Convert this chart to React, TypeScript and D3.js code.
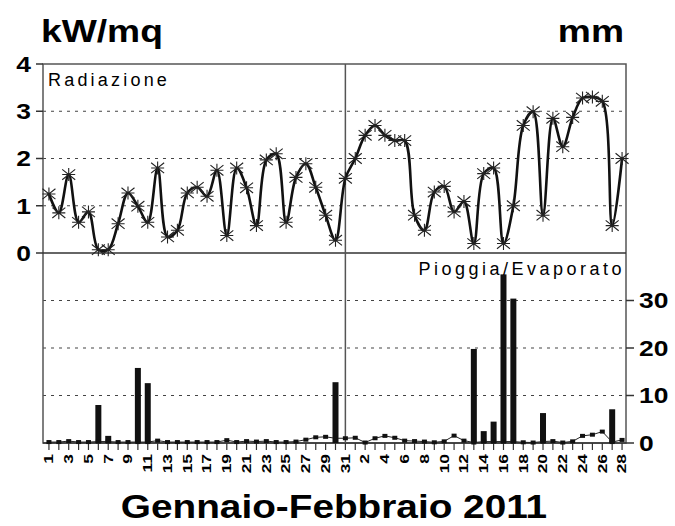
import { useEffect, useRef } from 'react'
import * as d3 from 'd3'

// radiation (kW/mq), one value per day
const janRadiation = [1.25, 0.85, 1.66, 0.65, 0.87, 0.07, 0.07, 0.62, 1.27, 0.99, 0.65, 1.8, 0.34, 0.48, 1.27, 1.39, 1.2, 1.75, 0.37, 1.8, 1.38, 0.58, 1.97, 2.1, 0.65, 1.6, 1.89, 1.39, 0.8, 0.27, 1.58]
const febRadiation = [2.0, 2.49, 2.7, 2.49, 2.38, 2.38, 0.8, 0.48, 1.29, 1.41, 0.87, 1.09, 0.2, 1.68, 1.8, 0.2, 1.0, 2.7, 2.99, 0.8, 2.85, 2.25, 2.87, 3.28, 3.3, 3.21, 0.58, 2.0]

// rain (mm)
const janRain = [0, 0, 0, 0, 0, 8.0, 1.5, 0, 0, 15.8, 12.6, 0, 0, 0, 0, 0, 0, 0, 0, 0, 0, 0, 0, 0, 0, 0, 0, 0, 0, 12.8, 0]
const febRain = [0, 0, 0, 0, 0, 0, 0, 0, 0, 0, 0, 0, 19.8, 2.5, 4.5, 35.5, 30.4, 0, 0, 6.3, 0, 0, 0, 0, 0, 0, 7.1, 0]

// evaporation (mm)
const janEvap = [0.2, 0.2, 0.4, 0.2, 0.2, 0.3, 0.3, 0.2, 0.2, 0.2, 0.2, 0.5, 0.2, 0.2, 0.2, 0.2, 0.2, 0.2, 0.6, 0.2, 0.4, 0.3, 0.4, 0.2, 0.2, 0.3, 0.7, 1.2, 1.3, 1.0, 1.0]
const febEvap = [1.1, 0.1, 1.0, 1.5, 1.1, 0.5, 0.4, 0.3, 0.15, 0.35, 1.55, 0.5, 0.1, 0.3, 0.3, 0.3, 0.3, 0.15, 0.1, 0.3, 0.4, 0.1, 0.35, 1.5, 1.75, 2.4, 0.2, 0.65]

const janDays = d3.range(1, 32).map(String)
const febDays = d3.range(1, 29).map(String)

const radTicks = [0, 1, 2, 3, 4]
const rainTicks = [0, 10, 20, 30]

const width = 675
const height = 526
const FONT = "'Liberation Sans', Arial, sans-serif"

const App = () => {
  const svgRef = useRef<SVGSVGElement>(null)

  useEffect(() => {
    if (!svgRef.current) return
    const svg = d3.select(svgRef.current)
    svg.selectAll('*').remove()

    const left = 43, right = 626, top = 64, mid = 253, bottom = 443

    const days = [...janDays, ...febDays]
    const idx = days.map((_, i) => i)
    const radiation = [...janRadiation, ...febRadiation]
    const rain = [...janRain, ...febRain]
    const evap = [...janEvap, ...febEvap]

    const x = d3.scalePoint<number>().domain(idx).range([left + 1, right + 1]).padding(0.5)
    const yRad = d3.scaleLinear().domain([0, 4]).range([mid, top])
    const yRain = d3.scaleLinear().domain([0, 40]).range([bottom, mid])

    const g = svg.append('g')

    // gridlines
    g.selectAll('.grid-rad')
      .data(radTicks.filter(t => t > 0 && t < 4))
      .join('line')
      .attr('x1', left).attr('x2', right)
      .attr('y1', d => yRad(d)).attr('y2', d => yRad(d))
      .attr('stroke', '#444').attr('stroke-width', 1.2)
      .attr('stroke-dasharray', '3,5')
    g.selectAll('.grid-rain')
      .data(rainTicks.filter(t => t > 0))
      .join('line')
      .attr('x1', left).attr('x2', right)
      .attr('y1', d => yRain(d)).attr('y2', d => yRain(d))
      .attr('stroke', '#444').attr('stroke-width', 1.2)
      .attr('stroke-dasharray', '3,5')

    // frame
    const frame = '#555'
    g.append('rect')
      .attr('x', left).attr('y', top)
      .attr('width', right - left).attr('height', bottom - top)
      .attr('fill', 'none').attr('stroke', frame).attr('stroke-width', 1.5)
    g.append('line')
      .attr('x1', left).attr('x2', right).attr('y1', mid).attr('y2', mid)
      .attr('stroke', '#333').attr('stroke-width', 1.5)
    g.append('line')
      .attr('x1', left).attr('x2', right).attr('y1', bottom).attr('y2', bottom)
      .attr('stroke', '#333').attr('stroke-width', 1.5)
    // month divider at 31 Jan
    g.append('line')
      .attr('x1', x(30)!).attr('x2', x(30)!).attr('y1', top).attr('y2', bottom)
      .attr('stroke', frame).attr('stroke-width', 1.5)

    // left axis (radiation)
    const leftAxis = g.append('g')
    leftAxis.selectAll('line')
      .data(radTicks)
      .join('line')
      .attr('x1', left - 7).attr('x2', left)
      .attr('y1', d => yRad(d)).attr('y2', d => yRad(d))
      .attr('stroke', '#333').attr('stroke-width', 1.5)
    leftAxis.selectAll('text')
      .data(radTicks)
      .join('text')
      .attr('transform', d => `translate(${left - 12}, ${yRad(d)}) scale(1.2, 1)`)
      .attr('dy', '0.36em')
      .attr('text-anchor', 'end')
      .attr('font-family', FONT).attr('font-weight', 'bold').attr('font-size', 22)
      .text(d => d)

    // right axis (mm)
    const rightAxis = g.append('g')
    rightAxis.selectAll('line')
      .data(rainTicks)
      .join('line')
      .attr('x1', right).attr('x2', right + 8)
      .attr('y1', d => yRain(d)).attr('y2', d => yRain(d))
      .attr('stroke', '#333').attr('stroke-width', 1.5)
    rightAxis.selectAll('text')
      .data(rainTicks)
      .join('text')
      .attr('transform', d => `translate(${right + 13}, ${yRain(d)}) scale(1.2, 1)`)
      .attr('dy', '0.36em')
      .attr('font-family', FONT).attr('font-weight', 'bold').attr('font-size', 22)
      .text(d => d)

    // x ticks + labels
    g.selectAll('.xtick')
      .data(idx)
      .join('line')
      .attr('x1', d => x(d)!).attr('x2', d => x(d)!)
      .attr('y1', bottom).attr('y2', bottom + 7)
      .attr('stroke', '#333').attr('stroke-width', 1.2)
    g.selectAll('.xlabel')
      .data(idx.filter(i => i % 2 === 0))
      .join('text')
      .attr('transform', d => `translate(${x(d)}, ${bottom + 11}) rotate(-90) scale(1.45, 1)`)
      .attr('dy', '0.36em')
      .attr('text-anchor', 'end')
      .attr('font-family', FONT).attr('font-weight', 'bold').attr('font-size', 12)
      .text(d => days[d])

    // rain bars
    const barW = 6
    g.selectAll('.bar')
      .data(idx.filter(i => rain[i] > 0))
      .join('rect')
      .attr('x', d => x(d)! - barW / 2)
      .attr('y', d => yRain(rain[d]))
      .attr('width', barW)
      .attr('height', d => bottom - yRain(rain[d]))
      .attr('fill', '#111')

    // evaporation line
    const evapLine = d3.line<number>()
      .x(d => x(d)!)
      .y(d => yRain(evap[d]))
    g.append('path')
      .attr('d', evapLine(idx))
      .attr('fill', 'none').attr('stroke', '#222').attr('stroke-width', 1)
    g.selectAll('.evap')
      .data(idx)
      .join('rect')
      .attr('x', d => x(d)! - 2.5)
      .attr('y', d => yRain(evap[d]) - 2)
      .attr('width', 5).attr('height', 4)
      .attr('fill', '#111')

    // radiation curve
    const radLine = d3.line<number>()
      .x(d => x(d)!)
      .y(d => yRad(radiation[d]))
      .curve(d3.curveCatmullRom.alpha(0.5))
    g.append('path')
      .attr('d', radLine(idx))
      .attr('fill', 'none').attr('stroke', '#111').attr('stroke-width', 2.6)

    // star markers
    const s = 6.5
    const stars = g.selectAll('.star')
      .data(idx)
      .join('path')
      .attr('transform', d => `translate(${x(d)}, ${yRad(radiation[d])})`)
      .attr('d', `M0,${-s}L0,${s}M${-s},${-s * 0.8}L${s},${s * 0.8}M${-s},${s * 0.8}L${s},${-s * 0.8}M${-s},0L${s},0`)
      .attr('stroke', '#222').attr('stroke-width', 1.1).attr('fill', 'none')
    stars.append('title').text(d => `${days[d]}: ${radiation[d]}`)

    // panel labels
    g.append('text')
      .attr('x', left + 5).attr('y', top + 22)
      .attr('font-family', FONT).attr('font-size', 18)
      .attr('letter-spacing', 3.2)
      .text('Radiazione')
    g.append('text')
      .attr('x', right - 1).attr('y', mid + 22)
      .attr('text-anchor', 'end')
      .attr('font-family', FONT).attr('font-size', 18)
      .attr('letter-spacing', 3.5)
      .text('Pioggia/Evaporato')

    // units + title
    g.append('text')
      .attr('transform', 'translate(41, 42) scale(1.2, 1)')
      .attr('font-family', FONT).attr('font-weight', 'bold').attr('font-size', 31)
      .text('kW/mq')
    g.append('text')
      .attr('transform', 'translate(624, 42) scale(1.2, 1)')
      .attr('text-anchor', 'end')
      .attr('font-family', FONT).attr('font-weight', 'bold').attr('font-size', 31)
      .text('mm')
    g.append('text')
      .attr('transform', 'translate(334, 518) scale(1.14, 1)')
      .attr('text-anchor', 'middle')
      .attr('font-family', FONT).attr('font-weight', 'bold').attr('font-size', 34)
      .text('Gennaio-Febbraio 2011')
  }, [])

  return (
    <svg
      ref={svgRef}
      width={width}
      height={height}
      viewBox={`0 0 ${width} ${height}`}
      style={{ position: 'absolute', left: 0, top: 0, background: '#fff' }}
    />
  )
}

export default App
